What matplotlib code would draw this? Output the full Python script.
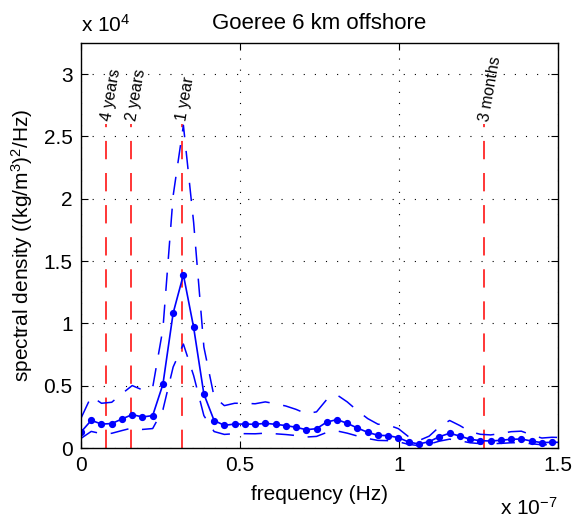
###############################################################################
#  IMPORTS
###############################################################################
import numpy as np
import matplotlib
matplotlib.use("Agg")
import matplotlib.pyplot as plt
from matplotlib.ticker import FuncFormatter, MultipleLocator

###############################################################################
#  DATA
###############################################################################

# frequency step of the spectrum (Hz)
FREQ_STEP = 3.22e-9

# spectral density estimate, (kg/m^3)^2/Hz
spectrum = [1280, 2220, 1920, 1960, 2330, 2680, 2490, 2600, 5110, 10830,
            13900, 9680, 4330, 2200, 1820, 1920, 1920, 1900, 1980, 1900,
            1800, 1660, 1470, 1550, 2080, 2280, 1980, 1600, 1260, 1020,
            990, 830, 480, 320, 510, 910, 1180, 960, 700, 590,
            560, 620, 700, 720, 560, 430, 460, 450]

# upper / lower confidence bounds
upper_bound = [2390, 4150, 3590, 3670, 4360, 5010, 4660, 4860, 9560, 20250,
               25900, 18100, 8100, 4110, 3400, 3590, 3590, 3550, 3700, 3550,
               3370, 3100, 2750, 2900, 3890, 4260, 3700, 2990, 2360, 1910,
               1850, 1550, 900, 600, 950, 1700, 2210, 1800, 1310, 1100,
               1050, 1160, 1310, 1350, 1050, 800, 860, 840]
lower_bound = [770, 1330, 1150, 1180, 1400, 1610, 1490, 1560, 3070, 6500,
               8340, 5810, 2600, 1320, 1090, 1150, 1150, 1140, 1190, 1140,
               1080, 1000, 880, 930, 1250, 1370, 1190, 960, 760, 610,
               590, 500, 290, 190, 310, 550, 710, 580, 420, 350,
               340, 370, 420, 430, 340, 260, 280, 270]

# reference periods (years) and their labels
period_years = [4, 2, 1, 0.25]
period_labels = ["4 years", "2 years", "1 year", "3 months"]
PERIOD_LINE_TOP = 2.6e4

###############################################################################
#  CONFIGURATION CONSTANTS
###############################################################################
FIGSIZE = (5.82, 5.2)
DPI = 100
FONT_SIZE = 15
TITLE_FONT_SIZE = 16
LABEL_FONT_SIZE = 11.5
BLUE = "#0000ff"
RED = "#ff0000"
DASHES = (12, 9)
XLIM = (0, 1.5e-7)
YLIM = (0, 3.25e4)

plt.rcParams["font.family"] = ["Liberation Sans", "DejaVu Sans"]
plt.rcParams["mathtext.default"] = "regular"

###############################################################################
#  PLOT
###############################################################################
freq = np.arange(len(spectrum)) * FREQ_STEP
seconds_per_year = 365.25 * 86400
period_freq = [1.0 / (p * seconds_per_year) for p in period_years]

fig = plt.figure(figsize=FIGSIZE, dpi=DPI)
ax = fig.add_axes([81 / 582, 1 - 448 / 520, 477 / 582, 405 / 520])

# reference period lines
for f, label in zip(period_freq, period_labels):
    ax.plot([f, f], [0, PERIOD_LINE_TOP], color=RED, lw=1.1, dashes=DASHES)
    ax.text(f, PERIOD_LINE_TOP + 250, label, rotation=80, rotation_mode="anchor",
            ha="left", va="center", fontsize=LABEL_FONT_SIZE)

ax.plot(freq, upper_bound, color=BLUE, lw=1.1, dashes=DASHES)
ax.plot(freq, lower_bound, color=BLUE, lw=1.1, dashes=DASHES)
ax.plot(freq, spectrum, color=BLUE, lw=1.2, marker="o", markersize=4.2)

ax.set_xlim(*XLIM)
ax.set_ylim(*YLIM)
ax.xaxis.set_major_locator(MultipleLocator(0.5e-7))
ax.yaxis.set_major_locator(MultipleLocator(0.5e4))
ax.xaxis.set_major_formatter(FuncFormatter(lambda v, p: f"{v / 1e-7:g}"))
ax.yaxis.set_major_formatter(FuncFormatter(lambda v, p: f"{v / 1e4:g}"))

ax.tick_params(direction="in", length=5, width=0.8, top=True, right=True,
               labelsize=FONT_SIZE, pad=6)
ax.grid(True, color="black", linestyle=(0, (1, 9)), linewidth=0.8)
for spine in ax.spines.values():
    spine.set_linewidth(1.0)

ax.set_title("Goeree 6 km offshore", fontsize=TITLE_FONT_SIZE, pad=10)
ax.set_xlabel("frequency (Hz)", fontsize=FONT_SIZE, labelpad=7)
ax.set_ylabel(r"spectral density ((kg/m$^3$)$^2$/Hz)", fontsize=FONT_SIZE, labelpad=6)

# MATLAB style exponent labels
fig.text(81 / 582, 1 - 32 / 520, r"x 10$^4$", fontsize=FONT_SIZE, ha="left", va="baseline")
fig.text(558 / 582, 1 - 515 / 520, r"x 10$^{-7}$", fontsize=FONT_SIZE, ha="right", va="baseline")

plt.savefig("out.png", dpi=DPI)
